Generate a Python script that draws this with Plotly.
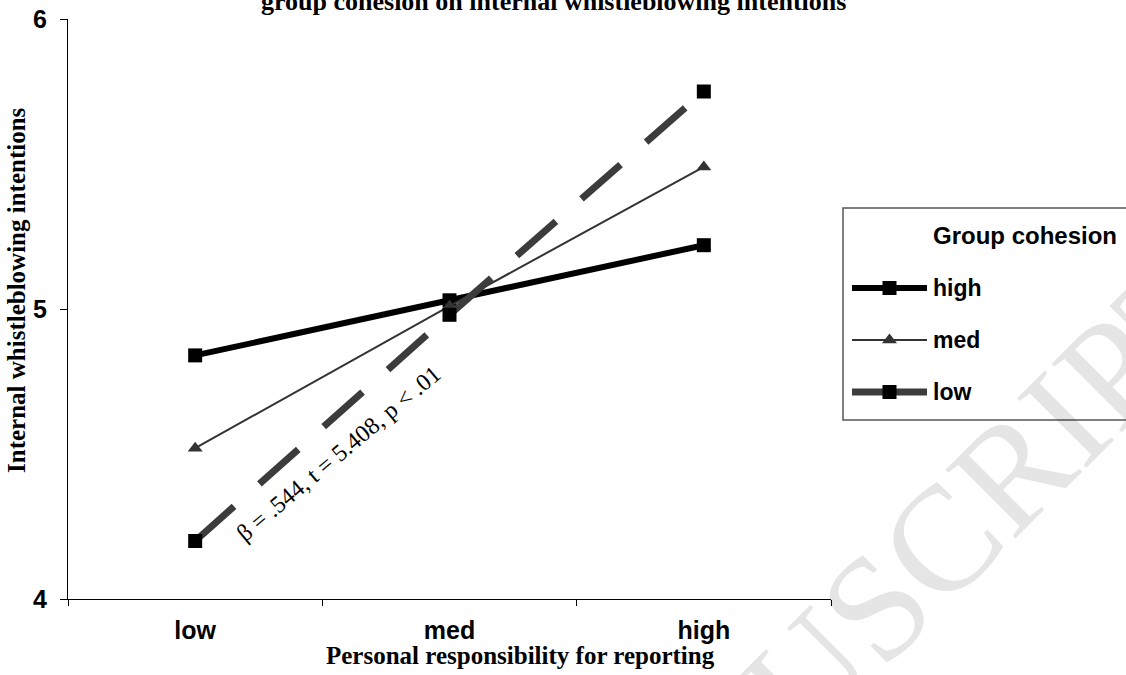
import plotly.graph_objects as go

# ---------------- data ----------------
categories = ["low", "med", "high"]
series_names = ["high", "med", "low"]
high_cohesion = [4.84, 5.03, 5.22]
med_cohesion = [4.52, 5.01, 5.49]
low_cohesion = [4.20, 4.98, 5.75]
y_ticks = [4, 5, 6]

title_text = "group cohesion on internal whistleblowing intentions"
x_title = "Personal responsibility for reporting"
y_title = "Internal whistleblowing intentions"
legend_title = "Group cohesion"
slope_note = "β = .544, t = 5.408, p < .01"
watermark = "ACCEPTED MANUSCRIPT"

# ---------------- layout helpers ----------------
W, H = 1126, 675
def px(x):
    return x / W
def py(y):
    return 1 - y / H

SANS = "Liberation Sans, Arial, sans-serif"
SERIF = "Liberation Serif, Times New Roman, serif"

styles = {
    "high": dict(line=dict(color="#000000", width=6),
                 marker=dict(symbol="square", size=14, color="#000000")),
    "med": dict(line=dict(color="#333333", width=2),
                marker=dict(symbol="triangle-up", size=13, color="#333333")),
    "low": dict(line=dict(color="#3c3c3c", width=7, dash="52px,34px"),
                marker=dict(symbol="square", size=14, color="#000000")),
}
values = {"high": high_cohesion, "med": med_cohesion, "low": low_cohesion}

fig = go.Figure()

# main series
for name in series_names:
    st = styles[name]
    fig.add_trace(go.Scatter(
        x=categories, y=values[name], mode="lines+markers", name=name,
        line=st["line"], marker=st["marker"], showlegend=False,
        xaxis="x", yaxis="y", hoverinfo="skip"))

# hand-built legend samples (on their own small axis)
annotations = []
for i, name in enumerate(series_names):
    st = styles[name]
    ln = dict(st["line"])
    ln.pop("dash", None)
    fig.add_trace(go.Scatter(
        x=[0, 2], y=[i, i], mode="lines", line=ln,
        showlegend=False, xaxis="x2", yaxis="y2", hoverinfo="skip"))
    fig.add_trace(go.Scatter(
        x=[1], y=[i], mode="markers", marker=st["marker"],
        showlegend=False, xaxis="x2", yaxis="y2", hoverinfo="skip"))
    annotations.append(dict(
        xref="x2", yref="y2", x=2.1, y=i, text=name, showarrow=False,
        xanchor="left", yanchor="middle",
        font=dict(family=SANS, size=23, color="black", weight="bold")))

annotations.append(dict(
    xref="x2", yref="y2", x=2.1, y=-1, text=legend_title, showarrow=False,
    xanchor="left", yanchor="middle",
    font=dict(family=SANS, size=24, color="black", weight="bold")))

# titles
annotations += [
    dict(xref="paper", yref="paper", x=px(553), y=py(1.5), text=title_text,
         showarrow=False, xanchor="center", yanchor="middle",
         font=dict(family=SERIF, size=26, color="black", weight="bold")),
    dict(xref="paper", yref="paper", x=px(520), y=py(655), text=x_title,
         showarrow=False, xanchor="center", yanchor="middle",
         font=dict(family=SERIF, size=25, color="black", weight="bold")),
    dict(xref="paper", yref="paper", x=px(17), y=py(290), text=y_title,
         showarrow=False, xanchor="center", yanchor="middle", textangle=-90,
         font=dict(family=SERIF, size=25, color="black", weight="bold")),
    dict(xref="paper", yref="paper", x=px(338), y=py(454), text=slope_note,
         showarrow=False, xanchor="center", yanchor="middle", textangle=-40,
         font=dict(family=SERIF, size=24, color="black")),
    dict(xref="paper", yref="paper", x=px(576), y=py(906), text=watermark,
         showarrow=False, xanchor="center", yanchor="middle", textangle=-45,
         font=dict(family=SERIF, size=150, color="rgba(0,0,0,0.1)")),
]

shapes = [dict(type="rect", xref="paper", yref="paper",
               x0=px(843), x1=1.05, y0=py(420), y1=py(208),
               line=dict(color="#555555", width=1.5), fillcolor="rgba(0,0,0,0)",
               layer="below")]

fig.update_layout(
    template="none",
    width=W, height=H,
    margin=dict(l=0, r=0, t=0, b=0, pad=0),
    paper_bgcolor="white", plot_bgcolor="white",
    showlegend=False,
    xaxis=dict(domain=[px(68), px(831)], type="category",
               categoryorder="array", categoryarray=categories,
               range=[-0.5, 2.5], tickson="boundaries",
               ticks="outside", ticklen=6, tickwidth=1, tickcolor="#000000",
               showline=True, linecolor="#000000", linewidth=1,
               showgrid=False, zeroline=False, automargin=False,
               ticklabelstandoff=9,
               tickfont=dict(family=SANS, size=25, color="black", weight="bold"),
               anchor="y"),
    yaxis=dict(domain=[py(599), py(19)], range=[4, 6],
               tickmode="array", tickvals=y_ticks,
               ticks="outside", ticklen=7, tickwidth=1, tickcolor="#000000",
               showline=True, linecolor="#000000", linewidth=1,
               showgrid=False, zeroline=False, automargin=False,
               ticklabelstandoff=8,
               tickfont=dict(family=SANS, size=25, color="black", weight="bold"),
               anchor="x"),
    xaxis2=dict(domain=[px(843), 1], range=[-0.24, 7.307], visible=False,
                anchor="y2", fixedrange=True),
    yaxis2=dict(domain=[py(420), py(208)], range=[2.538, -1.538], visible=False,
                anchor="x2", fixedrange=True),
    annotations=annotations,
    shapes=shapes,
)

fig.write_html("out.html")
